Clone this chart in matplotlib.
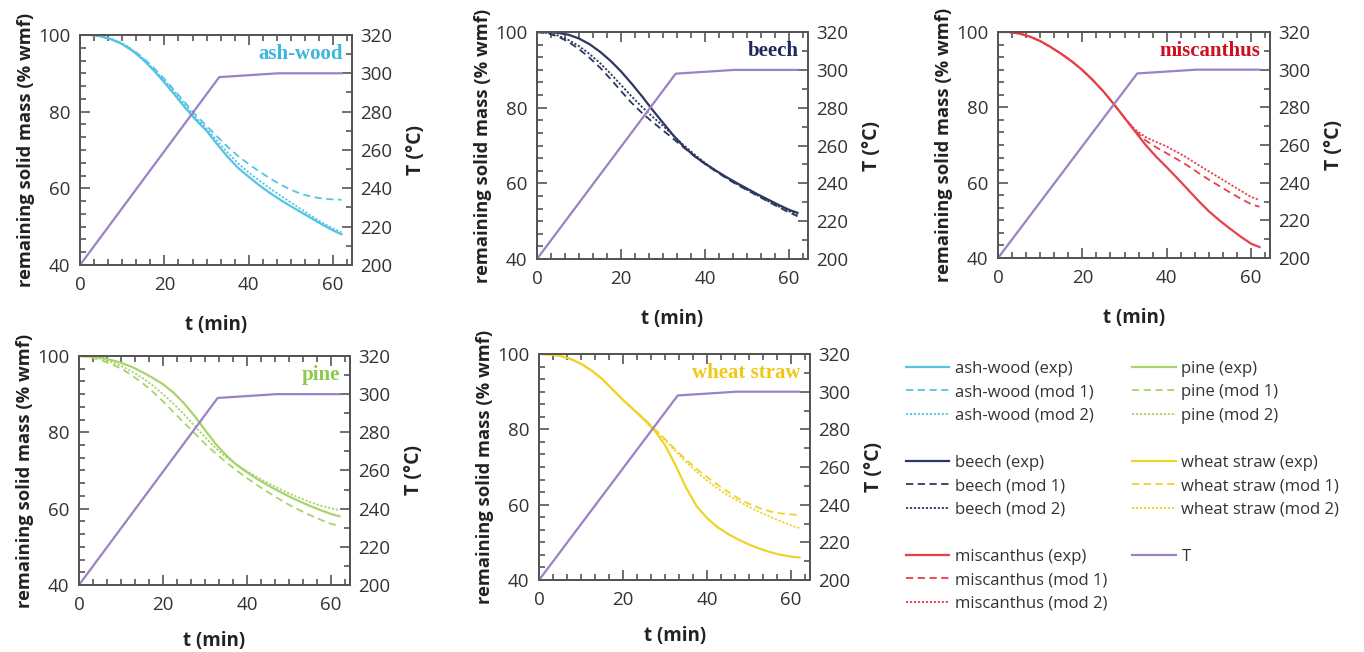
import matplotlib
matplotlib.use('Agg')
import matplotlib.pyplot as plt
from matplotlib.ticker import AutoMinorLocator
from matplotlib.lines import Line2D

# time grid (min) for the mass curves
t = [0, 2.5, 5, 7.5, 10, 12.5, 15, 17.5, 20, 22.5, 25, 27.5, 30, 32.5,
     35, 37.5, 40, 42.5, 45, 47.5, 50, 52.5, 55, 57.5, 60, 62]

# temperature program
t_T = [0, 33, 47, 62]
T_vals = [200, 298, 300, 300]

# remaining solid mass (% wmf): exp, mod 1, mod 2
ash_exp = [100, 100, 99.6, 98.8, 97.6, 95.8, 93.5, 90.7, 87.6, 84.3, 80.9, 77.8, 75,
           71.5, 68.2, 65.3, 63, 60.8, 58.8, 57, 55.3, 53.7, 52.1, 50.5, 49, 48]
ash_mod1 = [100, 100, 99.6, 98.9, 97.8, 96.1, 94, 91.4, 88.5, 85.4, 82.2, 79, 76.3,
            73.5, 70.8, 68.4, 66.3, 64.4, 62.6, 61, 59.6, 58.5, 57.8, 57.3, 57.1, 57]
ash_mod2 = [100, 100, 99.7, 99, 97.8, 96, 93.8, 91, 88.1, 85, 81.7, 78.4, 75.6,
            72.4, 69.3, 66.5, 64.1, 62, 60, 58.1, 56.3, 54.5, 52.7, 51, 49.5, 48.5]

beech_exp = [100, 100, 99.8, 99.3, 98.3, 96.8, 94.8, 92.4, 89.6, 86.4, 83, 79.4, 76,
             72.6, 69.6, 67.2, 65.2, 63.4, 61.7, 60.1, 58.6, 57.1, 55.7, 54.3, 53, 52.2]
beech_mod1 = [100, 99.7, 98.8, 97.4, 95.5, 93.2, 90.6, 87.6, 84.4, 81.3, 78.6, 76.2, 74,
              71.7, 69.4, 67.2, 65.1, 63.2, 61.4, 59.7, 58.2, 56.7, 55.2, 53.7, 52.3, 51.3]
beech_mod2 = [100, 99.8, 99.1, 97.9, 96.3, 94.2, 91.8, 89, 86, 83, 80.2, 77.6, 75.2,
              72.6, 70, 67.6, 65.4, 63.4, 61.6, 59.9, 58.3, 56.8, 55.3, 53.9, 52.6, 51.8]

misc_exp = [100, 100, 99.6, 98.8, 97.6, 96, 94.2, 92.2, 89.9, 87.2, 84.2, 80.8, 77.2,
            73.6, 70, 66.9, 64.1, 61.2, 58.2, 55.2, 52.4, 50, 47.8, 45.7, 43.8, 42.9]
misc_mod1 = [100, 100, 99.6, 98.8, 97.6, 96, 94.2, 92.2, 89.9, 87.2, 84.2, 80.8, 77.2,
             73.8, 71.2, 69.4, 67.8, 66.2, 64.5, 62.6, 60.8, 59.1, 57.4, 55.8, 54.3, 53.6]
misc_mod2 = [100, 100, 99.6, 98.8, 97.6, 96, 94.2, 92.2, 89.9, 87.2, 84.2, 80.8, 77.2,
             74.1, 72.1, 70.8, 69.6, 68.1, 66.5, 64.7, 63, 61.3, 59.6, 57.9, 56.2, 55.4]

pine_exp = [100, 99.9, 99.6, 99, 98.2, 97.2, 95.8, 94.3, 92.6, 90.4, 87.6, 84.3, 80.6,
            77, 74, 71.5, 69.5, 67.7, 66.1, 64.6, 63.2, 61.9, 60.7, 59.6, 58.6, 58]
pine_mod1 = [100, 99.7, 99, 98, 96.7, 95, 93, 90.7, 88.1, 85.3, 82.5, 79.8, 77,
             74.5, 72.2, 70, 68, 66.1, 64.3, 62.6, 61, 59.6, 58.3, 57.1, 56, 55.5]
pine_mod2 = [100, 99.8, 99.3, 98.5, 97.4, 96, 94.3, 92.3, 90, 87.5, 84.7, 81.7, 78.7,
             75.9, 73.5, 71.5, 69.8, 68.2, 66.7, 65.3, 64, 62.8, 61.7, 60.8, 60.1, 59.6]

wheat_exp = [100, 99.9, 99.5, 98.7, 97.4, 95.6, 93.4, 90.6, 87.8, 85.2, 82.6, 79.7, 75.8,
             70.4, 64.5, 59.6, 56.4, 54, 52.2, 50.7, 49.4, 48.3, 47.4, 46.7, 46.2, 46]
wheat_mod1 = [100, 99.9, 99.5, 98.7, 97.4, 95.6, 93.4, 90.6, 87.8, 85.3, 82.8, 80.1, 77.4,
              74.6, 71.9, 69.5, 67.3, 65.3, 63.4, 61.6, 60.2, 59.1, 58.2, 57.7, 57.4, 57.3]
wheat_mod2 = [100, 99.9, 99.5, 98.7, 97.4, 95.6, 93.4, 90.6, 87.8, 85.3, 82.8, 80, 77.1,
              74.2, 71.3, 68.7, 66.4, 64.3, 62.5, 60.9, 59.4, 58, 56.8, 55.6, 54.5, 53.8]

names = ['ash-wood', 'beech', 'miscanthus', 'pine', 'wheat straw']
series = [(ash_exp, ash_mod1, ash_mod2), (beech_exp, beech_mod1, beech_mod2),
          (misc_exp, misc_mod1, misc_mod2), (pine_exp, pine_mod1, pine_mod2),
          (wheat_exp, wheat_mod1, wheat_mod2)]
colors = ['#55c4e4', '#2d3760', '#e8404a', '#a8d46c', '#eed42a']
label_colors = ['#3bb6dc', '#1f2a5c', '#cc1020', '#8cca4c', '#f0c814']
t_color = '#9b82c4'

# axes rectangles (figure fraction)
rects = [[0.0587, 0.5936, 0.1994, 0.3528],
         [0.3937, 0.6028, 0.1987, 0.3480],
         [0.7317, 0.6043, 0.1994, 0.3466],
         [0.0579, 0.1028, 0.1987, 0.3512],
         [0.3952, 0.1104, 0.1987, 0.3466]]

fig = plt.figure(figsize=(13.64, 6.52), dpi=100)
tick_font = 'Open Sans'
lab_font = 'Open Sans'
spine_c = '#555555'
styles = ['-', (0, (4, 2.5)), (0, (1.2, 1))]

for i, name in enumerate(names):
    ax = fig.add_axes(rects[i])
    exp, m1, m2 = series[i]
    ax.plot(t, exp, color=colors[i], lw=1.6, ls=styles[0], zorder=3)
    ax.plot(t, m1, color=colors[i], lw=1.3, ls=styles[1], zorder=3)
    ax.plot(t, m2, color=colors[i], lw=1.3, ls=styles[2], zorder=3)
    ax.set_xlim(0, 64.5)
    ax.set_ylim(40, 100)
    ax.set_xticks([0, 20, 40, 60])
    ax.set_yticks([40, 60, 80, 100])
    ax.xaxis.set_minor_locator(AutoMinorLocator(6))
    ax.yaxis.set_minor_locator(AutoMinorLocator(6))
    ax.tick_params(which='both', direction='in', top=True, right=False,
                   color=spine_c, width=1.2)
    ax.tick_params(which='major', length=7, labelsize=13.5, labelcolor='#333333')
    ax.tick_params(which='minor', length=4)
    ax.tick_params(axis='x', which='major', pad=8)
    ax.tick_params(axis='y', which='major', pad=7)
    for lbl in ax.get_xticklabels() + ax.get_yticklabels():
        lbl.set_family(tick_font)
    for s in ax.spines.values():
        s.set_color(spine_c)
        s.set_linewidth(1.4)
    ax.set_xlabel('t (min)', fontsize=13.5, fontweight='bold', family=lab_font,
                  color='#222222', labelpad=15 if i < 3 else 12)
    ax.set_ylabel('remaining solid mass (% wmf)', fontsize=13.2, fontweight='bold',
                  family=lab_font, color='#222222', labelpad=2)
    ax.text(0.965, 0.915, name, transform=ax.transAxes, ha='right', va='center',
            fontsize=15, fontweight='bold', family='Liberation Serif',
            color=label_colors[i], zorder=5)

    ax2 = ax.twinx()
    ax2.plot(t_T, T_vals, color=t_color, lw=1.6, zorder=2)
    ax2.set_ylim(200, 320)
    ax2.set_yticks([200, 220, 240, 260, 280, 300, 320])
    ax2.yaxis.set_minor_locator(AutoMinorLocator(2))
    ax2.tick_params(which='both', direction='in', color=spine_c, width=1.2)
    ax2.tick_params(which='major', length=7, labelsize=13.5, labelcolor='#333333', pad=6)
    ax2.tick_params(which='minor', length=4)
    for lbl in ax2.get_yticklabels():
        lbl.set_family(tick_font)
    for s in ax2.spines.values():
        s.set_color(spine_c)
        s.set_linewidth(1.4)
    ax2.set_ylabel('T (°C)', fontsize=14, fontweight='bold', family=lab_font,
                   color='#222222', labelpad=10)

# legend in the empty slot
blank = Line2D([], [], color='none')
handles = []
labels = []
for j, nm in enumerate(names):
    for k, suf in enumerate(['exp', 'mod 1', 'mod 2']):
        handles.append(Line2D([], [], color=colors[j], lw=1.6 if k == 0 else 1.3,
                              ls=styles[k]))
        labels.append(f'{nm} ({suf})')
# column 1: ash-wood, beech, miscanthus; column 2: pine, wheat straw, T
col1_h = handles[0:3] + [blank] + handles[3:6] + [blank] + handles[6:9]
col1_l = labels[0:3] + [' '] + labels[3:6] + [' '] + labels[6:9]
col2_h = handles[9:12] + [blank] + handles[12:15] + [blank,
          Line2D([], [], color=t_color, lw=1.6), blank, blank]
col2_l = labels[9:12] + [' '] + labels[12:15] + [' ', 'T', ' ', ' ']
leg = fig.legend(col1_h + col2_h, col1_l + col2_l, ncol=2, loc='upper left',
                 bbox_to_anchor=(0.664, 0.447), frameon=False,
                 prop={'family': 'Open Sans', 'size': 12},
                 handlelength=2.6, handletextpad=0.35, columnspacing=1.5,
                 labelspacing=0.45, borderaxespad=0, borderpad=0)
for txt in leg.get_texts():
    txt.set_color('#333333')

fig.savefig('out.png', dpi=100)
